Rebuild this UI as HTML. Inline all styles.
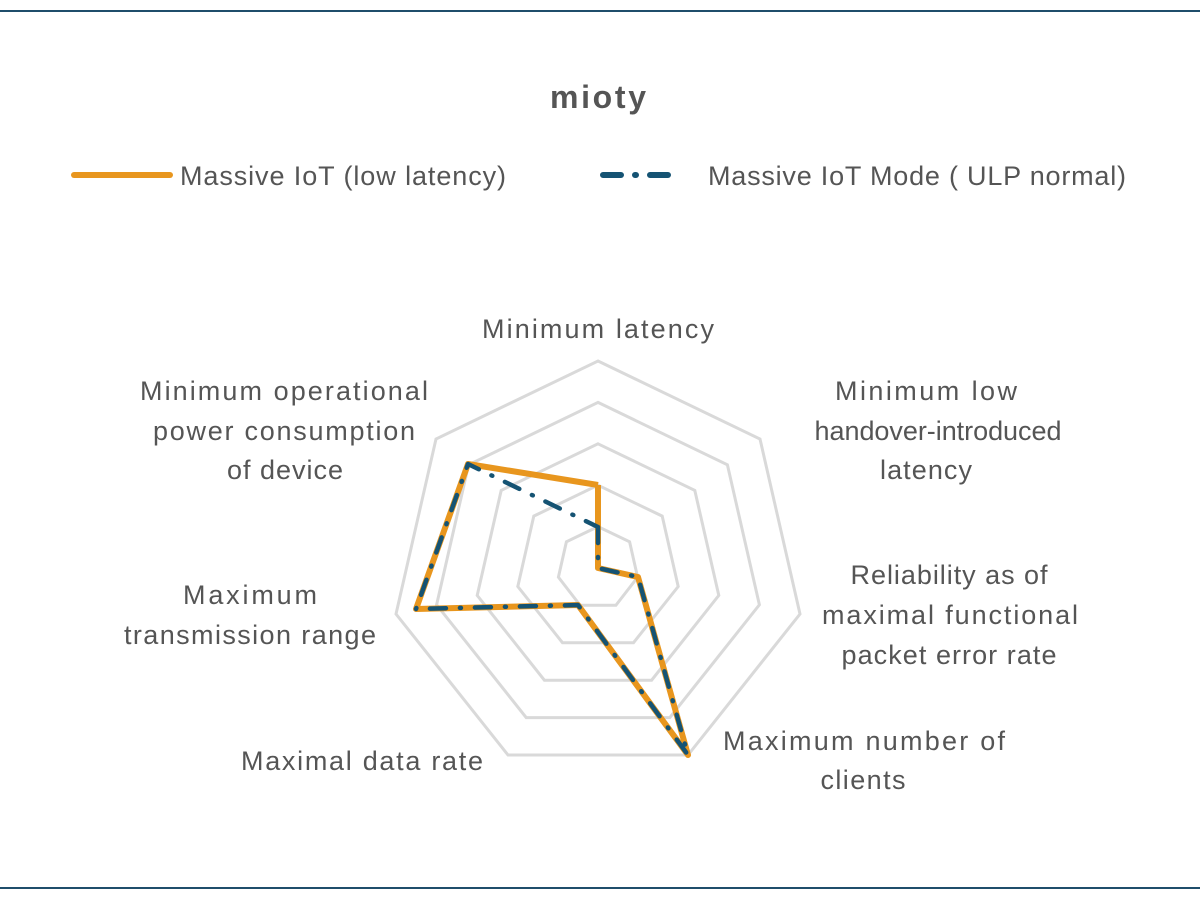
<!DOCTYPE html>
<html><head><meta charset="utf-8"><style>
html,body{margin:0;padding:0;background:#fff;}
svg text{font-family:"Liberation Sans",sans-serif;fill:#555;font-size:27px;}
</style></head><body>
<svg width="1200" height="900" viewBox="0 0 1200 900" xmlns="http://www.w3.org/2000/svg">
<line x1="0" y1="11" x2="1200" y2="11" stroke="#1f4e6b" stroke-width="2"/>
<line x1="0" y1="888" x2="1200" y2="888" stroke="#1f4e6b" stroke-width="2"/>
<text x="598" y="108" text-anchor="middle" style="font-weight:bold;font-size:32px" textLength="96">mioty</text>
<line x1="74" y1="175" x2="170" y2="175" stroke="#e8961e" stroke-width="6" stroke-linecap="round"/>
<text x="180" y="185" textLength="326">Massive IoT (low latency)</text>
<line x1="603" y1="175" x2="682" y2="175" stroke="#155373" stroke-width="6" stroke-dasharray="18,14,1,14" stroke-linecap="round"/>
<text x="708" y="185" textLength="418">Massive IoT Mode ( ULP normal)</text>
<g fill="none" stroke="#d9d9d9" stroke-width="3">
<polygon points="598,361 760,439 800,614 688,755 508,755 396,614 436,439"/>
<polygon points="598,402.4 727.4,464.8 759.4,604.8 669.8,717.6 526.2,717.6 436.6,604.8 468.6,464.8"/>
<polygon points="598,443.8 694.8,490.4 718.8,595.4 651.6,680.2 544.4,680.2 477.2,595.4 501.2,490.4"/>
<polygon points="598,485.2 662.2,516.1 678.2,586.5 633.5,642.7 562.5,642.7 517.8,586.5 533.8,516.1"/>
<polygon points="598,526.6 629.6,541.8 637.6,577.2 615.9,605.3 580.1,605.3 558.4,577.2 566.4,541.8"/>
</g>
<polyline points="598,485 598,568 638,577 688,755 578,605 416,609 468,464 598,485" fill="none" stroke="#e8961e" stroke-width="6" stroke-linejoin="round"/>
<polyline points="598,527 598,568 638,577 688,755 578,605 416,609 468,464 598,527" fill="none" stroke="#155373" stroke-width="4.5" stroke-dasharray="16,14,1,14" stroke-linecap="round" stroke-linejoin="round"/>
<text x="598" y="338" text-anchor="middle" textLength="232">Minimum latency</text>
<text x="284" y="400" text-anchor="middle" textLength="288">Minimum operational</text>
<text x="284" y="440" text-anchor="middle" textLength="262">power consumption</text>
<text x="285" y="479" text-anchor="middle" textLength="116">of device</text>
<text x="926" y="400" text-anchor="middle" textLength="182">Minimum low</text>
<text x="938" y="440" text-anchor="middle" textLength="247">handover-introduced</text>
<text x="926" y="479" text-anchor="middle" textLength="92">latency</text>
<text x="949" y="584" text-anchor="middle" textLength="197">Reliability as of</text>
<text x="950" y="624" text-anchor="middle" textLength="256">maximal functional</text>
<text x="949" y="664" text-anchor="middle" textLength="215">packet error rate</text>
<text x="250" y="604" text-anchor="middle" textLength="134">Maximum</text>
<text x="250" y="644" text-anchor="middle" textLength="252">transmission range</text>
<text x="362" y="770" text-anchor="middle" textLength="242">Maximal data rate</text>
<text x="864" y="750" text-anchor="middle" textLength="282">Maximum number of</text>
<text x="863" y="789" text-anchor="middle" textLength="85">clients</text>
</svg>
</body></html>
